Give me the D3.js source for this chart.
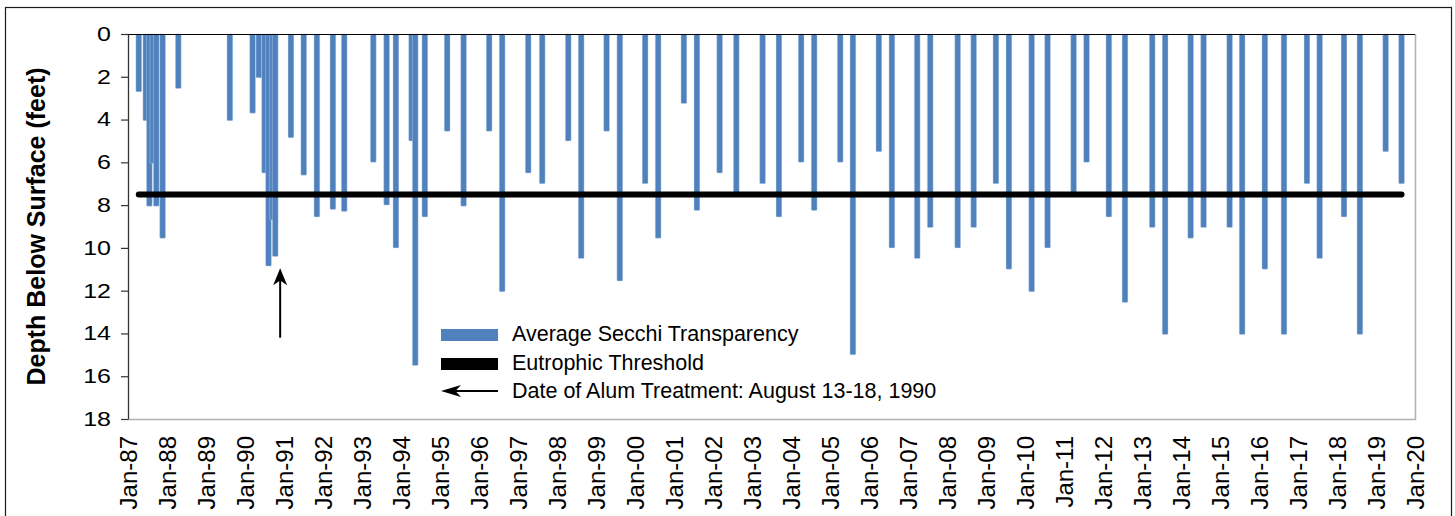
<!DOCTYPE html>
<html>
<head>
<meta charset="utf-8">
<script src="https://cdn.jsdelivr.net/npm/d3@7"></script>
<style>
  html, body { margin: 0; padding: 0; background: #fff; }
  svg { display: block; font-family: "Liberation Sans", Arial, sans-serif; }
</style>
</head>
<body>
<svg id="chart" width="1455" height="516"></svg>
<script>
// ---- data ----
const sampleDates = [
  "1987-04-12","1987-06-17","1987-07-20","1987-08-22","1987-09-23","1987-11-21",
  "1988-04-16","1989-08-12","1990-03-13","1990-05-11","1990-07-03","1990-08-09",
  "1990-09-16","1990-10-11","1991-03-07","1991-07-05","1991-11-05","1992-04-03",
  "1992-07-18","1993-04-16","1993-08-19","1993-11-14","1994-04-10","1994-05-14",
  "1994-08-12","1995-03-09","1995-08-10","1996-04-05","1996-08-05","1997-04-06",
  "1997-08-15","1998-04-16","1998-08-15","1999-04-10","1999-08-12","2000-04-05",
  "2000-08-05","2001-04-03","2001-08-03","2002-03-04","2002-08-07","2003-04-10",
  "2003-09-10","2004-04-05","2004-08-05","2005-04-06","2005-08-03","2006-04-03",
  "2006-08-03","2007-03-28","2007-07-28","2008-04-10","2008-09-07","2009-04-03",
  "2009-08-03","2010-03-04","2010-07-31","2011-04-01","2011-07-31","2012-02-25",
  "2012-07-25","2013-04-06","2013-08-05","2014-04-01","2014-07-31","2015-04-01",
  "2015-07-27","2016-02-25","2016-08-22","2017-03-25","2017-07-22","2018-03-07",
  "2018-08-03","2019-04-01","2019-08-28"
];
const secchiDepth = [
  2.7, 4.05, 8.05, 6.05, 8.05, 9.55,
  2.55, 4.05, 3.7, 2.05, 6.5, 10.85,
  8.7, 10.4, 4.85, 6.6, 8.55, 8.2,
  8.3, 6.0, 8.0, 10.0, 5.0, 15.5,
  8.55, 4.55, 8.05, 4.55, 12.05, 6.5,
  7.0, 5.0, 10.5, 4.55, 11.55, 7.0,
  9.55, 3.25, 8.25, 6.5, 7.45, 7.0,
  8.55, 6.0, 8.25, 6.0, 15.0, 5.5,
  10.0, 10.5, 9.05, 10.0, 9.05, 7.0,
  11.0, 12.05, 10.0, 7.45, 6.0, 8.55,
  12.55, 9.05, 14.05, 9.55, 9.05, 9.05,
  14.05, 11.0, 14.05, 7.0, 10.5, 8.55,
  14.05, 5.5, 7.0
];
const eutrophicThreshold = 7.5;
const yTickValues = [0, 2, 4, 6, 8, 10, 12, 14, 16, 18];
const xStart = "1987-01-01", xEnd = "2020-01-01";
const alumArrowDate = "1990-11-26";
const alumArrowFrom = 14.2, alumArrowTo = 10.95;
const legendLabels = ["Average Secchi Transparency", "Eutrophic Threshold", "Date of Alum Treatment: August 13-18, 1990"];
const yTitle = "Depth Below Surface (feet)";

// ---- layout ----
const parse = d3.timeParse("%Y-%m-%d");
const svg = d3.select("#chart");
const L = 128, R = 1415, T = 34, B = 419;
const BLUE = "#4F81BD";

const x = d3.scaleTime().domain([parse(xStart), parse(xEnd)]).range([L, R]);
const y = d3.scaleLinear().domain([0, 18]).range([T, B]);

// outer frame
svg.append("rect").attr("x", 5.5).attr("y", 7.5).attr("width", 1446).attr("height", 520)
  .attr("fill", "none").attr("stroke", "#1a1a1a").attr("stroke-width", 1.2);

// plot border (right & bottom gray)
svg.append("path").attr("d", `M${L},${B + 0.5}H${R + 0.5}V${T}`)
  .attr("fill", "none").attr("stroke", "#b0b0b0").attr("stroke-width", 1.5);

// bars
const data = sampleDates.map((d, i) => ({ date: parse(d), v: secchiDepth[i] }));
const bw = 5.8;
svg.append("g").selectAll("rect").data(data).join("rect")
  .attr("x", d => x(d.date) - bw / 2)
  .attr("y", y(0))
  .attr("width", bw)
  .attr("height", d => y(d.v) - y(0))
  .attr("rx", 1)
  .attr("fill", BLUE)
  .attr("stroke", "rgba(200,215,235,0.7)")
  .attr("stroke-width", 0.6);

// threshold line
svg.append("line")
  .attr("x1", x(data[0].date)).attr("x2", x(data[data.length - 1].date))
  .attr("y1", y(eutrophicThreshold)).attr("y2", y(eutrophicThreshold))
  .attr("stroke", "#000").attr("stroke-width", 6).attr("stroke-linecap", "round");

// top x-axis line
svg.append("line").attr("x1", L).attr("x2", R).attr("y1", T + 0.5).attr("y2", T + 0.5)
  .attr("stroke", "#000").attr("stroke-width", 1.2);

// y axis
const yAxis = d3.axisLeft(y).tickValues(yTickValues).tickSize(7).tickSizeOuter(0).tickPadding(0);
const gy = svg.append("g").attr("transform", `translate(${L},0)`).call(yAxis);
gy.select(".domain").attr("stroke", "#333").attr("stroke-width", 1.3);
gy.selectAll(".tick line").attr("stroke", "#333").attr("stroke-width", 1.2);
gy.selectAll(".tick text")
  .attr("x", null)
  .attr("transform", "translate(-17,0) scale(1.25,1)")
  .attr("font-size", 20).attr("fill", "#000")
  .attr("font-family", "'Liberation Sans', Arial, sans-serif");

// x tick labels at bottom
const years = d3.timeYear.range(parse(xStart), d3.timeDay.offset(parse(xEnd), 1));
const fmt = d3.timeFormat("%b-%y");
svg.append("g").selectAll("text").data(years).join("text")
  .attr("transform", d => `translate(${x(d)},${436}) rotate(-90)`)
  .attr("text-anchor", "end")
  .attr("dy", "0.36em")
  .attr("font-size", 24)
  .attr("fill", "#000")
  .text(d => fmt(d));

// y title
svg.append("text")
  .attr("transform", `translate(36,${(T + B) / 2}) rotate(-90)`)
  .attr("text-anchor", "middle").attr("dy", "0.35em")
  .attr("font-size", 25).attr("font-weight", "bold").attr("fill", "#000")
  .text(yTitle);

// arrow helper (tip at (tx,ty), direction angle)
function arrowHead(g, tx, ty, angleDeg, len, wid) {
  const p = `M0,0 L${-len},${-wid / 2} L${-len * 0.72},0 L${-len},${wid / 2} Z`;
  g.append("path").attr("d", p)
    .attr("transform", `translate(${tx},${ty}) rotate(${angleDeg})`)
    .attr("fill", "#000");
}

// alum treatment arrow
const ax = x(parse(alumArrowDate));
const ag = svg.append("g");
ag.append("line").attr("x1", ax).attr("x2", ax)
  .attr("y1", y(alumArrowFrom)).attr("y2", y(alumArrowTo) + 8)
  .attr("stroke", "#000").attr("stroke-width", 2);
arrowHead(ag, ax, y(alumArrowTo), -90, 17, 14);

// legend
const lg = svg.append("g");
const lx0 = 441, lx1 = 498, tx = 512;
lg.append("rect").attr("x", lx0).attr("y", 329).attr("width", lx1 - lx0).attr("height", 12).attr("fill", BLUE);
lg.append("rect").attr("x", lx0).attr("y", 358).attr("width", lx1 - lx0).attr("height", 12).attr("fill", "#000");
lg.append("line").attr("x1", lx0 + 8).attr("x2", lx1).attr("y1", 391).attr("y2", 391)
  .attr("stroke", "#000").attr("stroke-width", 2);
arrowHead(lg, lx0, 391, 180, 20, 12);
[341, 370, 398].forEach((by, i) => {
  lg.append("text").attr("x", tx).attr("y", by).attr("font-size", 21.5).attr("fill", "#000").text(legendLabels[i]);
});
</script>
</body>
</html>
